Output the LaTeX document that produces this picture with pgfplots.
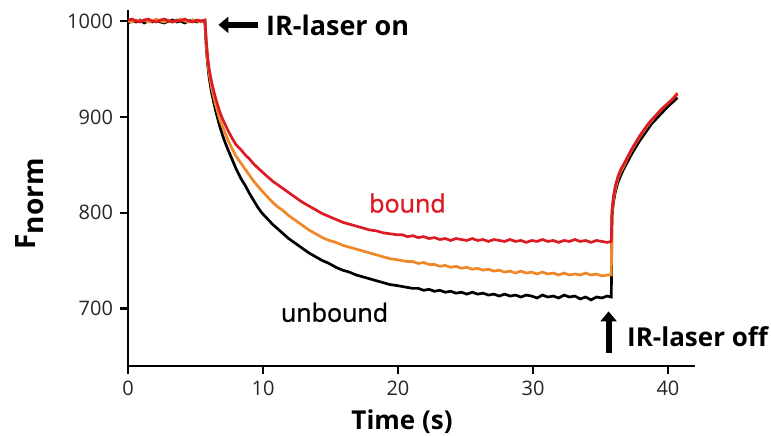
\documentclass[border=0pt]{standalone}
\usepackage{fontspec}
\setmainfont{Open Sans}
\newfontfamily\semib[FakeBold=1.2]{Open Sans}
\usepackage{pgfplots}
\usepackage{pgfplotstable}
\usetikzlibrary{arrows.meta}
\pgfplotsset{compat=1.18}
\definecolor{cred}{RGB}{220,28,36}
\definecolor{corange}{RGB}{240,135,40}
\pgfplotstableread{
t k o r
0.0 998 1000 1001
0.3 1000 999 1002
0.6 999 1001 1000
0.9 1001 1000 999
1.2 998 1001 1001
1.5 1000 999 1002
1.8 999 1000 1000
2.1 1001 1002 999
2.4 999 1000 1001
2.7 998 999 1002
3.0 1000 1001 1000
3.3 1001 999 999
3.6 999 1000 1001
3.9 1000 1002 1000
4.2 998 1000 1002
4.5 1000 999 1000
4.8 1001 1001 999
5.1 999 1000 1001
5.4 1000 999 1000
5.7 999 1001 1001
5.75 985 987 990
5.8 972 975 979
5.9 955 958 963
6.0 942 946 951
6.1 933 938 943
6.2 925 930 936
6.35 915 921 927
6.5 906 912 919
6.65 898 905 912
6.8 890 897 905
7.0 881 890 898
7.2 873 883 892
7.4 866 876 886
7.7 856 867 878
8.0 846 859 871
8.35 836 852 866
8.7 828 845 860
9.0 820 839 856
9.3 813 833 851
9.6 806 828 847
9.9 800 823 843
10.3 794 817 838
10.7 788 811 833
11.1 783 806 829
11.5 778 802 825
11.9 773 797 821
12.4 768 792 816
12.9 763 787 811
13.4 758 782 807
13.9 754 778 803
14.4 750 774 799
14.9 747 771 796
15.4 743 769 793
15.9 740 766 790
16.4 738 764 788
16.9 735 762 786
17.4 733 760 784
17.9 731 758 782
18.4 729 756 781
18.9 727 754 779
19.4 725 752 778
19.9 724 751 777
20.3 723 750 777
20.7 722 749 775
21.1 721 749 776
21.5 721 747 774
21.9 719 748 775
22.3 720 746 773
22.7 718 746 774
23.1 719 744 772
23.5 717 745 773
23.9 718 743 771
24.3 716 744 773
24.7 717 742 772
25.1 715 743 771
25.5 717 741 773
25.9 715 742 771
26.3 716 740 772
26.7 714 741 770
27.1 715 739 772
27.5 713 740 771
27.9 715 738 770
28.3 713 739 772
28.7 714 737 770
29.1 712 739 771
29.5 714 737 769
29.9 713 738 771
30.3 711 736 770
30.7 714 738 772
31.1 712 736 770
31.5 713 737 771
31.9 711 735 769
32.3 714 737 771
32.7 712 735 770
33.1 713 736 772
33.5 710 735 770
33.9 712 737 771
34.3 709 735 769
34.7 712 736 771
35.1 711 734 770
35.5 713 735 769
35.8 712 735 770
35.85 796 799 802
35.95 810 813 816
36.1 822 825 828
36.3 832 836 838
36.5 839 843 845
36.7 845 848 850
37.0 853 857 858
37.3 861 865 866
37.6 868 872 873
37.9 875 879 880
38.2 881 885 886
38.5 887 891 892
38.8 893 896 897
39.2 899 903 903
39.6 905 909 909
40.0 911 914 914
40.4 916 920 919
40.7 920 925 924
}\mstdata
\begin{document}
\begin{tikzpicture}
\begin{axis}[
  name=ax,
  scale only axis,
  width=283.5pt, height=178pt,
  xmin=0, xmax=42, ymin=640, ymax=1011.5,
  axis lines*=left,
  axis line style={line width=1.1pt, -},
  xtick={0,10,20,30,40},
  ytick={700,800,900,1000},
  tick style={line width=1.1pt, black},
  tick align=outside,
  major tick length=4pt,
  tick label style={font=\fontsize{10}{12}\selectfont, text=black!85},
  /pgf/number format/assume math mode=true,
  /pgf/number format/1000 sep={},
  clip=false,
]
\addplot[black, line width=1.35pt] table[x=t, y=k] {\mstdata};
\addplot[corange, line width=1.35pt] table[x=t, y=o] {\mstdata};
\addplot[cred, line width=1.35pt] table[x=t, y=r] {\mstdata};
\node[font=\semib\fontsize{12.5}{14}\selectfont, text=cred] at (axis cs:20.7,810) {bound};
\node[font=\semib\fontsize{12.5}{14}\selectfont, text=black] at (axis cs:15.3,696) {unbound};
\draw[-{Triangle[length=5pt,width=8pt]}, line width=3pt] (axis cs:9.6,996) -- (axis cs:6.7,996);
\node[anchor=west, inner sep=0pt, font=\bfseries\fontsize{13.5}{15}\selectfont] at (axis cs:10.2,995) {IR-laser on};
\draw[-{Triangle[length=5pt,width=8pt]}, line width=3pt] (axis cs:35.6,654) -- (axis cs:35.6,697);
\node[anchor=west, inner sep=0pt, font=\bfseries\fontsize{13}{15}\selectfont] at (axis cs:36.95,671) {IR-laser off};
\node[font=\bfseries\fontsize{13}{15}\selectfont] at (axis cs:20.3,582) {Time (s)};
\node[rotate=90, font=\bfseries\fontsize{14}{16}\selectfont] at (axis cs:-7.3,809) {F\raisebox{-4pt}{norm}};
\end{axis}
\pgfresetboundingbox
\path (ax.south west) ++(-64pt,-34.5pt) rectangle ++(385.5pt,217.5pt);
\end{tikzpicture}
\end{document}
